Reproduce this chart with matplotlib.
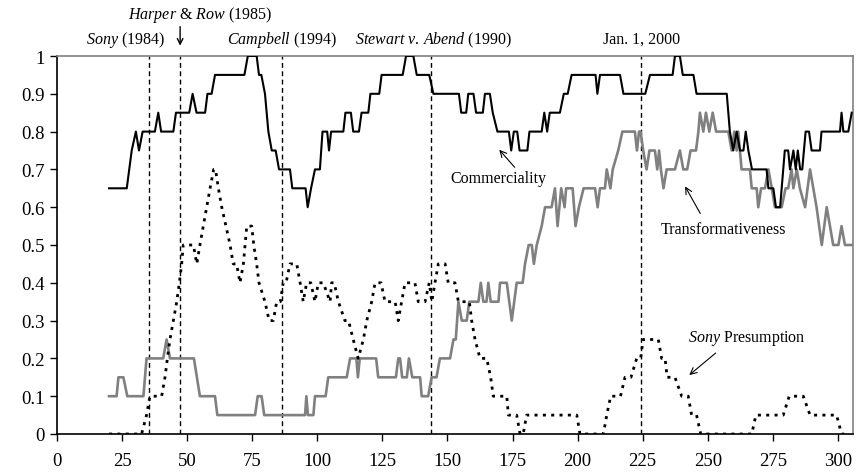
import matplotlib
matplotlib.use("Agg")
import matplotlib.pyplot as plt

# --- dati ---
comm_x = [20, 26.8, 28.7, 30.3, 31.5, 32.9, 37.6, 38.9, 40.0, 44.7, 45.7, 50.8, 52.1, 53.6,
          56.9, 57.8, 59.4, 60.7, 72.0, 73.3, 76.7, 77.6, 78.5, 79.9, 81.2, 82.5, 84.0, 85.3,
          89.5, 90.4, 95.5, 96.3, 97.6, 99.1, 101.0, 102.0, 103.8, 104.5, 105.3, 110.0, 110.8,
          112.9, 113.8, 116.0, 117.0, 119.6, 120.4, 123.8, 124.7, 132.8, 134.1, 136.9, 138.2,
          143.0, 144.6, 154.4, 155.3, 157.2, 158.0, 160.0, 161.0, 163.6, 164.4, 166.3, 167.4,
          169.2, 173.6, 174.5, 175.5, 176.8, 177.7, 180.7, 181.5, 186.2, 187.2, 188.3, 189.3,
          193.2, 194.7, 196.2, 197.7, 206.9, 207.6, 208.6, 216.3, 217.6, 226.0, 227.8, 236.5,
          237.4, 239.3, 240.4, 244.5, 245.7, 257.3, 258.5, 259.8, 261.1, 262.4, 263.7, 264.6,
          265.6, 267.0, 272.6, 273.3, 275.2, 276.2, 277.8, 279.0, 279.6, 280.9, 281.6, 282.9,
          283.8, 284.6, 285.5, 286.3, 287.6, 288.9, 289.9, 293.1, 293.7, 300.8, 301.4, 302.1,
          304.0, 305.3]
comm_y = [.65, .65, .75, .80, .75, .80, .80, .85, .80, .80, .85, .85, .90, .85,
          .85, .90, .90, .95, .95, 1.0, 1.0, .95, .95, .90, .80, .75, .75, .70,
          .70, .65, .65, .60, .65, .70, .70, .80, .80, .75, .80, .80, .85,
          .85, .80, .80, .85, .85, .90, .90, .95, .95, 1.0, 1.0, .95,
          .95, .90, .90, .85, .85, .90, .90, .85, .85, .90, .90, .85,
          .80, .80, .75, .80, .80, .75, .75, .80, .80, .85, .80, .85,
          .85, .90, .90, .95, .95, .90, .95, .95, .90, .90, .95, .95,
          1.0, 1.0, .95, .95, .90, .90, .80, .75, .80, .75, .75, .80,
          .75, .70, .70, .65, .65, .60, .60, .70, .75, .75, .70, .75,
          .70, .75, .70, .70, .80, .80, .75, .75, .80, .80, .85, .80,
          .80, .85]

trans_x = [20, 22.9, 23.6, 25.5, 27.0, 33.2, 34.4, 40.8, 42.1, 43.4, 52.6, 54.9, 60.7, 61.6,
           76.1, 77.1, 78.6, 79.6, 95.3, 95.8, 96.4, 98.5, 99.1, 103.2, 104.2, 111.3, 112.6,
           115.0, 115.6, 116.3, 122.6, 123.4, 130.2, 131.1, 131.8, 132.6, 134.4, 135.2, 136.5,
           139.5, 140.1, 142.6, 143.9, 145.8, 147.1, 151.0, 152.3, 153.2, 154.2, 155.5, 157.4,
           158.4, 161.9, 162.8, 163.8, 165.0, 165.7, 166.6, 169.6, 170.2, 172.8, 174.7, 176.6,
           178.9, 179.8, 181.2, 182.4, 183.2, 184.3, 186.2, 187.5, 190.0, 191.3, 192.3, 193.7,
           195.0, 195.6, 198.1, 199.2, 200.5, 202.3, 206.7, 207.7, 208.6, 210.5, 211.2, 212.6,
           213.5, 215.6, 217.2, 222.0, 222.8, 223.6, 224.2, 225.2, 226.5, 227.6, 229.7, 230.6,
           231.3, 232.0, 233.0, 234.2, 237.4, 239.3, 240.6, 242.1, 243.4, 245.5, 246.4, 247.0,
           248.3, 249.3, 250.6, 251.9, 253.2, 257.9, 259.2, 260.2, 261.1, 261.7, 263.0, 266.2,
           266.9, 268.8, 269.4, 270.5, 272.0, 273.3, 274.6, 275.8, 278.4, 279.9, 280.9, 282.2,
           282.9, 284.2, 285.4, 287.4, 289.3, 291.8, 293.8, 295.7, 298.2, 300.2, 301.4, 302.7,
           305.7]
trans_y = [.10, .10, .15, .15, .10, .10, .20, .20, .25, .20, .20, .10, .10, .05,
           .05, .10, .10, .05, .05, .10, .05, .05, .10, .10, .15, .15, .20,
           .20, .15, .20, .20, .15, .15, .20, .20, .15, .15, .20, .15,
           .15, .10, .10, .15, .15, .20, .20, .25, .25, .35, .30, .30,
           .35, .35, .40, .35, .35, .40, .35, .35, .40, .40, .30, .40,
           .40, .45, .50, .50, .45, .50, .55, .60, .60, .65, .55, .65,
           .60, .65, .65, .55, .60, .65, .65, .60, .65, .65, .70, .65,
           .70, .75, .80, .80, .75, .80, .80, .75, .70, .75, .75, .70,
           .75, .70, .65, .70, .70, .75, .70, .70, .75, .75, .80, .85,
           .80, .85, .80, .85, .80, .80, .75, .80, .75, .80, .70, .70,
           .65, .65, .60, .65, .65, .70, .65, .60, .60, .65, .65, .70,
           .65, .70, .65, .60, .70, .60, .50, .60, .50, .50, .55, .50,
           .50]

sony_x = [20, 32.5, 34.4, 35.7, 40.2, 41.5, 42.4, 43.4, 44.7, 46.0, 47.0, 47.9, 48.5, 52.4,
          53.7, 54.9, 56.2, 57.5, 58.8, 60.2, 60.9, 62.0, 63.3, 64.9, 66.5, 67.7, 69.0, 70.3,
          71.6, 72.9, 74.8, 75.6, 76.7, 77.6, 79.9, 81.5, 83.1, 84.4, 85.8, 86.9, 88.0, 89.5,
          92.1, 93.4, 94.6, 95.9, 97.5, 99.1, 100.4, 102.3, 104.9, 105.5, 106.5, 108.1, 110.6,
          112.0, 113.8, 115.7, 117.7, 119.0, 120.9, 122.2, 124.5, 126.0, 129.9, 131.1, 132.4,
          133.7, 137.5, 138.8, 141.4, 143.0, 144.0, 145.2, 146.5, 149.1, 150.3, 152.9, 154.2,
          158.4, 159.3, 160.6, 162.5, 165.1, 166.6, 167.6, 172.8, 173.4, 176.6, 177.9, 179.1,
          180.4, 199.7, 200.9, 209.9, 211.2, 212.7, 216.5, 218.2, 220.5, 222.7, 224.2, 225.2,
          231.0, 232.3, 233.6, 234.4, 237.4, 240.0, 242.5, 243.8, 245.7, 247.3, 266.9, 268.5,
          279.0, 281.3, 286.7, 289.3, 299.5, 301.4, 303.0]
sony_y = [0, 0, .05, .10, .10, .15, .20, .25, .30, .35, .40, .45, .50, .50,
          .45, .50, .55, .60, .65, .70, .70, .65, .60, .55, .50, .45, .45, .40,
          .45, .55, .55, .50, .45, .40, .35, .30, .30, .35, .35, .40, .40, .45,
          .45, .40, .35, .40, .40, .35, .40, .40, .35, .40, .40, .35, .30,
          .30, .25, .20, .25, .30, .35, .40, .40, .35, .35, .30, .35,
          .40, .40, .35, .35, .40, .35, .40, .45, .45, .40, .40, .35,
          .35, .30, .25, .20, .20, .15, .10, .10, .05, .05, 0, 0,
          .05, .05, 0, 0, .05, .10, .10, .15, .15, .20, .20, .25,
          .25, .20, .20, .15, .15, .10, .10, .05, .05, 0, 0, .05,
          .05, .10, .10, .05, .05, 0, 0]

event_x = [35.5, 47.3, 86.3, 143.8, 224.4]

xticks = [0, 25, 50, 75, 100, 125, 150, 175, 200, 225, 250, 275, 300]
yticks = [0, 0.1, 0.2, 0.3, 0.4, 0.5, 0.6, 0.7, 0.8, 0.9, 1]
ytick_labels = ["0", "0.1", "0.2", "0.3", "0.4", "0.5", "0.6", "0.7", "0.8", "0.9", "1"]

# --- stile ---
plt.rcParams["font.family"] = ["Liberation Serif", "DejaVu Serif"]
plt.rcParams["mathtext.fontset"] = "custom"
plt.rcParams["mathtext.rm"] = "Liberation Serif"
plt.rcParams["mathtext.it"] = "Liberation Serif:italic"

fig = plt.figure(figsize=(8.59, 4.77), dpi=100)
ax = fig.add_axes([57 / 859, 42 / 477, 796 / 859, 378 / 477])

for xv in event_x:
    ax.plot([xv, xv], [0, 1], color="black", lw=1.0, ls=(0, (3.5, 2.5)), zorder=1)

ax.plot(trans_x, trans_y, color="#808080", lw=1.9, zorder=2)
ax.plot(comm_x, comm_y, color="black", lw=1.5, zorder=3)
ax.plot(sony_x, sony_y, color="black", lw=2.0, ls=(0, (1.1, 1.9)), zorder=3)

ax.set_xlim(0, 305.8)
ax.set_ylim(0, 1)
ax.set_xticks(xticks)
ax.set_xticklabels([str(t) for t in xticks])
ax.set_yticks(yticks)
ax.set_yticklabels(ytick_labels)
ax.tick_params(axis="both", direction="out", length=5, width=1, labelsize=13.5, pad=4)
ax.tick_params(axis="x", pad=8)

for side in ["left", "bottom"]:
    ax.spines[side].set_color("black")
    ax.spines[side].set_linewidth(1.2)
for side in ["top", "right"]:
    ax.spines[side].set_color("#808080")
    ax.spines[side].set_linewidth(1.2)

# etichette degli eventi in alto
fs = 11.5
ax.text(26.5, 1.045, r"$\it{Sony}$ (1984)", ha="center", va="center", fontsize=fs, clip_on=False)
ax.text(55, 1.111, r"$\it{Harper}$ & $\it{Row}$ (1985)", ha="center", va="center", fontsize=fs, clip_on=False)
ax.annotate("", xy=(47.3, 1.02), xytext=(47.3, 1.085),
            arrowprops=dict(arrowstyle="->", color="black", lw=1.0), annotation_clip=False)
ax.text(86.3, 1.045, r"$\it{Campbell}$ (1994)", ha="center", va="center", fontsize=fs, clip_on=False)
ax.text(144.8, 1.045, r"$\it{Stewart\ v.\,Abend}$ (1990)", ha="center", va="center",
        fontsize=fs, clip_on=False)
ax.text(224.5, 1.045, "Jan. 1, 2000", ha="center", va="center", fontsize=fs, clip_on=False)

# etichette delle serie con frecce
ax.annotate("Commerciality", xy=(169.9, 0.752), xytext=(169.4, 0.677),
            ha="center", va="center", fontsize=fs,
            arrowprops=dict(arrowstyle="->", color="black", lw=0.8,
                            shrinkA=0, shrinkB=0, relpos=(0.7, 1.0)))
ax.annotate("Transformativeness", xy=(241.3, 0.655), xytext=(256, 0.542),
            ha="center", va="center", fontsize=fs,
            arrowprops=dict(arrowstyle="->", color="black", lw=0.8,
                            shrinkA=4, shrinkB=0, relpos=(0.35, 1.0)))
ax.annotate(r"$\it{Sony}$ Presumption", xy=(242.9, 0.156), xytext=(265, 0.256),
            ha="center", va="center", fontsize=fs,
            arrowprops=dict(arrowstyle="->", color="black", lw=0.8,
                            shrinkA=4, shrinkB=0, relpos=(0.3, 0.0)))

fig.savefig("out.png", dpi=100)
